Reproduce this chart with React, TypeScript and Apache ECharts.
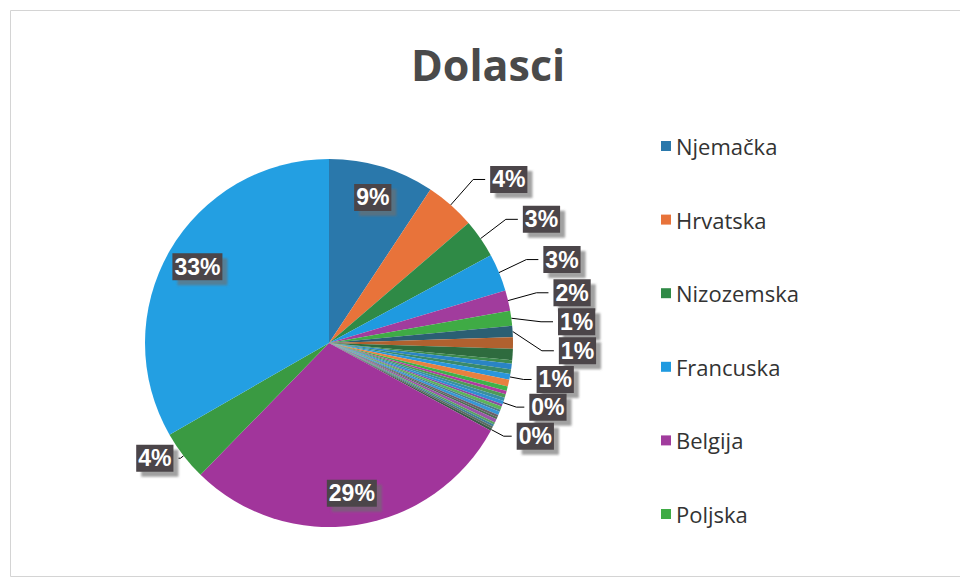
import React, { useEffect, useRef } from "react";
import * as echarts from "echarts";

const titleText = "Dolasci";

const countries = [
  "Njemačka", "Hrvatska", "Nizozemska", "Francuska", "Belgija", "Poljska",
  "Ostalo 7", "Ostalo 8", "Ostalo 9", "Ostalo 10", "Ostalo 11", "Ostalo 12",
  "Ostalo 13", "Ostalo 14", "Ostalo 15", "Ostalo 16", "Ostalo 17", "Ostalo 18",
  "Ostalo 19", "Ostalo 20", "Ostalo 21", "Ostalo 22", "Ostalo 23", "Ostalo 24",
  "Ostalo 25", "Ostalo 26", "Ostalo 27", "Ostalo 28", "Ostalo 29", "Ostalo 30",
  "Ostalo 31", "Ostalo 32", "Ostalo 33",
];

const arrivals = [
  93, 44, 34, 33, 18, 13,
  10, 10, 10, 3, 5, 4,
  5, 6, 4, 3, 3, 3,
  3, 2, 3, 2, 3, 2,
  2, 3, 2, 2, 2, 2,
  294, 44, 333,
];

const legendNames = ["Njemačka", "Hrvatska", "Nizozemska", "Francuska", "Belgija", "Poljska"];

const sliceColors = [
  "#2a78ab", "#e8733a", "#2f8a46", "#1f9ae0", "#a13c9d", "#3fab45",
  "#2b5f73", "#b0612f", "#2e6b3e", "#3d8a4c", "#2a84c4", "#3a8a6a",
  "#2a96dc", "#e8803f", "#3db24a", "#b03aa0", "#4f9a55", "#3a8fa0",
  "#2e8fd4", "#8a4aa2", "#5cb45a", "#4a7f8a", "#3896d6", "#6b5f6a",
  "#4b6e52", "#9a55a8", "#58a060", "#3f7f99", "#5a6a60", "#3b5a48",
  "#a1359b", "#3a9a42", "#239fe2",
];

// which slices carry which kind of label
const insideLabelIdx = [0, 30, 32];
const tinyLabelStart = 9;
const tinyLabelEnd = 29;
const shortLineIdx = [31];

export default function App() {
  const ref = useRef<HTMLDivElement>(null);

  useEffect(() => {
    if (!ref.current) return;
    const chart = echarts.init(ref.current, undefined, { renderer: "svg" });

    const labelBox = {
      color: "#ffffff",
      fontWeight: "bold" as const,
      fontSize: 23,
      fontFamily: "Liberation Sans, Arial, sans-serif",
      backgroundColor: "#4b4448",
      padding: [3, 2, 1, 2],
      shadowColor: "rgba(110,110,110,0.65)",
      shadowOffsetX: 5,
      shadowOffsetY: 5,
      shadowBlur: 2,
      formatter: (p: any) => `${Math.round(p.percent)}%`,
    };

    const center = [329, 343];
    const R = 184;

    const isTiny = (i: number) => i >= tinyLabelStart && i <= tinyLabelEnd;

    const mainData = countries.map((name, i) => {
      const outside = !insideLabelIdx.includes(i) && !isTiny(i);
      const shortLine = shortLineIdx.includes(i);
      return {
        name,
        value: arrivals[i],
        itemStyle: { color: sliceColors[i] },
        label: { show: outside },
        labelLine: shortLine
          ? { show: outside, length: 4, length2: 2 }
          : { show: outside },
      };
    });

    const insideData = countries.map((name, i) => ({
      name,
      value: arrivals[i],
      itemStyle: { color: "rgba(0,0,0,0)" },
      label: { show: insideLabelIdx.includes(i) },
    }));

    const tinyData = countries.map((name, i) => {
      const on = isTiny(i);
      return {
        name,
        value: arrivals[i],
        itemStyle: { color: "rgba(0,0,0,0)" },
        label: { show: on },
        labelLine: { show: on },
      };
    });

    chart.setOption({
      animation: false,
      backgroundColor: "#ffffff",
      title: {
        text: titleText,
        left: 406,
        top: 38,
        textStyle: {
          fontSize: 43,
          fontWeight: "bold",
          fontFamily: "Open Sans, sans-serif",
          color: "#4a4a4a",
        },
      },
      legend: {
        data: legendNames,
        orient: "vertical",
        left: 656,
        top: 129,
        icon: "rect",
        itemWidth: 10,
        itemHeight: 10,
        itemGap: 49.6,
        textStyle: {
          fontSize: 22,
          lineHeight: 24,
          color: "#333333",
          fontFamily: "Open Sans, sans-serif",
        },
      },
      graphic: [
        {
          type: "rect",
          shape: { x: 10.5, y: 10.5, width: 960, height: 566 },
          style: { fill: "none", stroke: "#d4d4d4", lineWidth: 1 },
          silent: true,
        },
      ],
      series: [
        {
          type: "pie",
          center,
          radius: R,
          startAngle: 90,
          clockwise: true,
          avoidLabelOverlap: true,
          silent: true,
          label: { ...labelBox, position: "outside" },
          labelLine: { length: 34, length2: 12, lineStyle: { color: "#000", width: 1 } },
          data: mainData,
        },
        {
          type: "pie",
          center,
          radius: [0, R * 1.62],
          startAngle: 90,
          clockwise: true,
          silent: true,
          label: { ...labelBox, position: "inside" },
          labelLine: { show: false },
          data: insideData,
        },
        {
          type: "pie",
          center,
          radius: R,
          startAngle: 90,
          clockwise: true,
          avoidLabelOverlap: false,
          silent: true,
          label: { ...labelBox, position: "outside" },
          labelLine: { length: 14, length2: 8, lineStyle: { color: "#000", width: 1 } },
          data: tinyData,
        },
      ],
    });

    return () => chart.dispose();
  }, []);

  return (
    <div
      ref={ref}
      style={{ position: "absolute", left: 0, top: 0, width: 960, height: 583 }}
    />
  );
}
